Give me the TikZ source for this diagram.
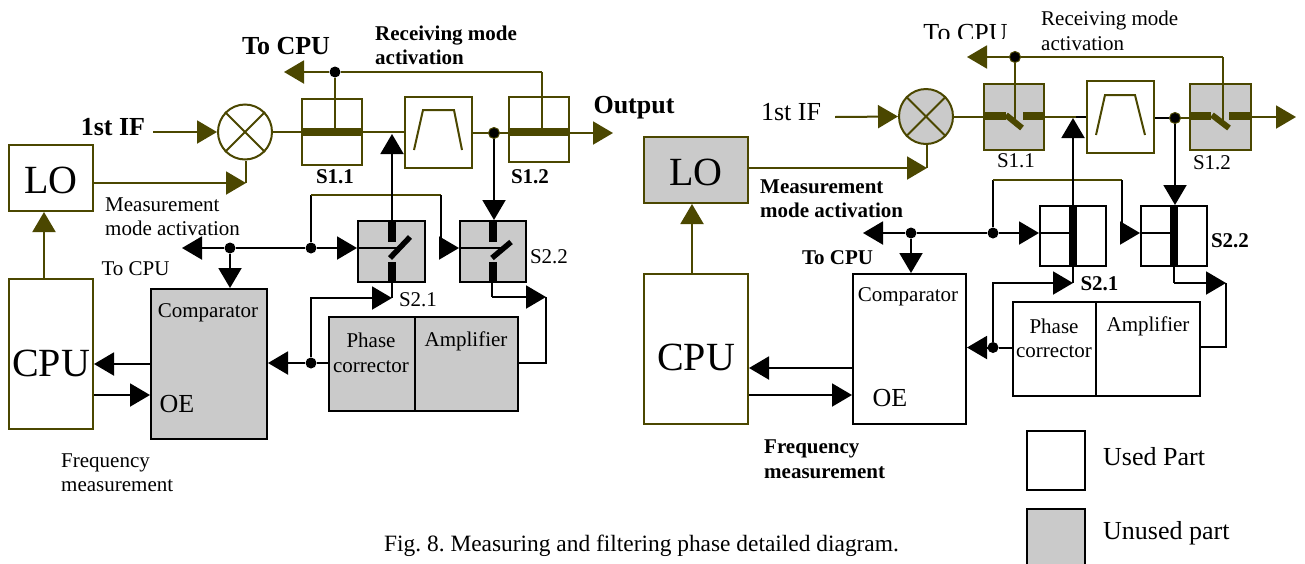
\documentclass[tikz,border=0pt]{standalone}
\usepackage{fontspec}
\setmainfont{Liberation Serif}
\usetikzlibrary{arrows.meta,shapes.geometric}
\definecolor{oliveline}{HTML}{4B4700}
\definecolor{partgray}{HTML}{CACACA}
\tikzset{
    block/.style={draw=black,line width=2pt,inner sep=0pt,align=center},
    oblock/.style={block,draw=oliveline},
    gblock/.style={block,fill=partgray},
    ogblock/.style={oblock,fill=partgray},
    mixer/.style={ellipse,draw=oliveline,line width=2pt,inner sep=0pt,minimum width=54pt,minimum height=55pt},
    wire/.style={draw=black,line width=2pt},
    owire/.style={draw=oliveline,line width=2pt},
    arr/.style={-{Triangle[length=20pt,width=23pt]}},
    bar/.style={line width=7.5pt},
    jdot/.style={circle,fill=black,inner sep=0pt,minimum size=11pt},
    ojdot/.style={jdot,draw=oliveline,line width=1pt},
    txt/.style={font=\fontsize{21}{24.5}\selectfont,inner sep=0pt,align=left},
    txtb/.style={font=\fontsize{21}{24.5}\selectfont\bfseries,inner sep=0pt,align=left},
    mid/.style={font=\fontsize{26}{26}\selectfont,inner sep=0pt},
    midb/.style={font=\fontsize{26}{26}\selectfont\bfseries,inner sep=0pt},
    big/.style={font=\fontsize{40}{40}\selectfont,inner sep=0pt},
}
\begin{document}
\frenchspacing
\begin{tikzpicture}[x=1pt,y=-1pt]
    \useasboundingbox (0,0) rectangle (1305,563);

    % left panel
    \node[oblock,minimum width=84pt,minimum height=66pt] (loL) at (51,178) {};
    \node[oblock,minimum width=84pt,minimum height=150pt] (cpuL) at (51,354) {};
    \node[gblock,minimum width=116pt,minimum height=150pt] (compL) at (209,364) {};
    \node[gblock,minimum width=86pt,minimum height=94pt] (phaseL) at (372,364) {};
    \node[gblock,minimum width=103pt,minimum height=94pt] (ampL) at (466.5,364) {};
    \node[oblock,minimum width=60pt,minimum height=66pt] (s11L) at (332,132) {};
    \node[oblock,minimum width=67pt,minimum height=71pt] (filtL) at (438.5,132.5) {};
    \node[oblock,minimum width=60pt,minimum height=65pt] (s12L) at (539,129.5) {};
    \node[gblock,minimum width=67pt,minimum height=61pt] (s21L) at (391.5,251.5) {};
    \node[gblock,minimum width=66pt,minimum height=61pt] (s22L) at (493,251.5) {};
    \node[mixer] (mixL) at (245,132) {};
    \draw[owire] (mixL.45) -- (mixL.225) (mixL.135) -- (mixL.315);
    \draw[owire] (414,150) -- (423,110) -- (454,110) -- (462,150);

    \node[jdot] (jtopL) at (335,72) {};
    \node[ojdot] (joutL) at (494,133) {};
    \node[jdot] (jcpuL) at (230,248) {};
    \node[jdot] (jmodeL) at (311,248) {};
    \node[jdot] (jphaseL) at (311,363) {};
    \coordinate (ifL) at (153,132);
    \coordinate (outL) at (613,133);
    \coordinate (topL) at (542,72);
    \coordinate (tocpuL) at (284,72);
    \coordinate (tos11L) at (335,128);
    \coordinate (tos12L) at (542,128);
    \coordinate (lomixL) at (246,183);
    \coordinate (modeL) at (182,248);
    \coordinate (upaL) at (311,195);
    \coordinate (upbL) at (441,195);
    \coordinate (upcL) at (441,248);
    \coordinate (filtinL) at (392,134);
    \coordinate (fbaL) at (311,298);
    \coordinate (fbbL) at (392,298);
    \coordinate (ampaL) at (492,297);
    \coordinate (ampbL) at (546,297);
    \coordinate (ampcL) at (546,363);

    \draw[owire,arr] (ifL) -- (mixL.west);
    \draw[owire] (mixL.east) -- (filtL.west |- mixL.east);
    \draw[owire] (filtL.east |- joutL) -- (joutL);
    \draw[owire,arr] (joutL) -- (outL);
    \draw[owire,arr] (topL) -- (jtopL) -- (tocpuL);
    \draw[owire] (jtopL) -- (tos11L);
    \draw[owire] (topL) -- (tos12L);
    \draw[owire,arr] (loL.east |- lomixL) -- (lomixL);
    \draw[owire] (lomixL) -- (mixL.south -| lomixL);
    \draw[owire,arr] (cpuL.north -| 44,0) -- (loL.south -| 44,0);
    \draw[oliveline,bar] (302,132) -- (362,132);
    \draw[oliveline,bar] (509,132) -- (569,132);

    \draw[wire,{Triangle[length=20pt,width=23pt]}-] (modeL) -- (jcpuL);
    \draw[wire] (jcpuL) -- (jmodeL);
    \draw[wire,arr] (jmodeL) -- (s21L.west |- jmodeL);
    \draw[wire] (s21L.west |- jmodeL) -- (402,248);
    \draw[wire,arr] (jcpuL) -- (compL.north -| jcpuL);
    \draw[wire] (jmodeL) -- (upaL);
    \draw[owire] (upaL) -- (upbL);
    \draw[wire,arr] (upbL) -- (upcL) -- (s22L.west |- upcL);
    \draw[wire] (s22L.west |- upcL) -- (503,248);
    \draw[wire,arr] (s21L.north -| 392,0) -- (filtinL);
    \draw[wire,arr] (joutL) -- (s22L.north -| joutL);
    \draw[wire] (s21L.south -| 392,0) -- (fbbL);
    \draw[wire,arr] (jphaseL) -- (fbaL) -- (fbbL);
    \draw[wire] (s22L.south -| ampaL) -- (ampaL);
    \draw[wire,arr] (ampaL) -- (ampbL);
    \draw[wire] (ampbL) -- (ampcL) -- (ampL.east |- ampcL);
    \draw[wire] (phaseL.west |- jphaseL) -- (jphaseL);
    \draw[wire,arr] (jphaseL) -- (compL.east |- jphaseL);
    \draw[wire,arr] (compL.west |- 0,364) -- (cpuL.east |- 0,364);
    \draw[wire,arr] (cpuL.east |- 0,395) -- (compL.west |- 0,395);
    \draw[bar] (392,221) -- (392,242) (392,262) -- (392,282);
    \draw[bar,line width=5.5pt] (390,258) -- (410,237);
    \draw[bar] (493,221) -- (493,242) (493,262) -- (493,282);
    \draw[bar,line width=5.5pt] (492,258) -- (511,242);

    \node[big] (loaL) at (51,180) {LO};
    \node[big] (cpuaL) at (51,363) {CPU};
    \node[midb] (tcaL) at (286,46) {To CPU};
    \node[txtb,anchor=west] (recvL) at (375,45.5) {Receiving mode\\activation};
    \node[midb] (ifaL) at (113,127) {1st IF};
    \node[midb] (outaL) at (634,108) {Output};
    \node[txtb] (s11aL) at (335,177) {S1.1};
    \node[txtb] (s12aL) at (530,177) {S1.2};
    \node[txt,anchor=west] (measL) at (105,216.5) {Measurement\\mode activation};
    \node[txt] (tcbL) at (135.5,269) {To CPU};
    \node[txt] (s21aL) at (418,300) {S2.1};
    \node[txt] (s22aL) at (549,257) {S2.2};
    \node[txt] (cmpaL) at (208,313) {Comparator};
    \node[mid] (oeL) at (177,404) {OE};
    \node[txt,align=center] (phaL) at (371,353) {Phase\\corrector};
    \node[txt] (ampaaL) at (466,341) {Amplifier};
    \node[txt,anchor=west] (freqL) at (61,472.5) {Frequency\\measurement};

    % right panel
    \node[ogblock,minimum width=104pt,minimum height=66pt] (loR) at (696,170) {};
    \node[oblock,minimum width=104pt,minimum height=150pt] (cpuR) at (696,349) {};
    \node[block,minimum width=113pt,minimum height=150pt] (compR) at (909.5,349) {};
    \node[block,minimum width=83pt,minimum height=94pt] (phaseR) at (1054.5,349) {};
    \node[block,minimum width=104pt,minimum height=94pt] (ampR) at (1148,349) {};
    \node[ogblock,minimum width=60pt,minimum height=66pt] (s11R) at (1014,117) {};
    \node[oblock,minimum width=67pt,minimum height=72pt] (filtR) at (1120.5,117) {};
    \node[ogblock,minimum width=61pt,minimum height=66pt] (s12R) at (1220.5,117) {};
    \node[block,minimum width=66pt,minimum height=60pt] (s21R) at (1073,236) {};
    \node[block,minimum width=66pt,minimum height=60pt] (s22R) at (1174,236) {};
    \node[mixer,fill=partgray] (mixR) at (926,116.5) {};
    \draw[owire] (mixR.45) -- (mixR.225) (mixR.135) -- (mixR.315);
    \draw[owire] (1096,135) -- (1105,95) -- (1135,95) -- (1145,135);

    \node[ojdot] (jtopR) at (1015,57) {};
    \node[ojdot] (joutR) at (1175,118) {};
    \node[jdot] (jcpuR) at (911,233) {};
    \node[jdot] (jmodeR) at (993,233) {};
    \node[jdot] (jphaseR) at (993,347.5) {};
    \coordinate (ifR) at (835,117);
    \coordinate (outR) at (1296,117);
    \coordinate (topR) at (1223,57);
    \coordinate (tocpuR) at (967,57);
    \coordinate (tos11R) at (1015,120);
    \coordinate (tos12R) at (1223,120);
    \coordinate (lomixR) at (927,168);
    \coordinate (modeR) at (863,233);
    \coordinate (upaR) at (993,180);
    \coordinate (upbR) at (1122,180);
    \coordinate (upcR) at (1122,233);
    \coordinate (filtinR) at (1073,118);
    \coordinate (fbaR) at (993,283);
    \coordinate (fbbR) at (1073,283);
    \coordinate (ampaR) at (1174,283);
    \coordinate (ampbR) at (1226,283);
    \coordinate (ampcR) at (1226,347);

    \draw[owire,arr] (ifR) -- (mixR.west);
    \draw[owire] (mixR.east) -- (s11R.west |- mixR.east);
    \draw[owire] (s11R.east) -- (filtR.west);
    \draw[wire] (1076,117) -- (filtR.west);
    \draw[wire] (filtR.east |- joutR) -- (joutR);
    \draw[owire] (joutR) -- (s12R.west |- joutR);
    \draw[owire,arr] (s12R.east) -- (outR);
    \draw[owire,arr] (topR) -- (jtopR) -- (tocpuR);
    \draw[owire] (jtopR) -- (tos11R);
    \draw[owire] (topR) -- (tos12R);
    \draw[owire,arr] (loR.east |- lomixR) -- (lomixR);
    \draw[owire] (lomixR) -- (mixR.south -| lomixR);
    \draw[owire,arr] (cpuR.north -| 692,0) -- (loR.south -| 692,0);
    \draw[oliveline,bar] (984,116) -- (1006,116) (1023,116) -- (1044,116);
    \draw[oliveline,bar,line width=6pt] (1006,115) -- (1022,128);
    \draw[oliveline,bar] (1190,116) -- (1211,116) (1229,116) -- (1251,116);
    \draw[oliveline,bar,line width=6pt] (1212,115) -- (1229,128);

    \draw[wire,{Triangle[length=20pt,width=23pt]}-] (modeR) -- (jcpuR);
    \draw[wire] (jcpuR) -- (jmodeR);
    \draw[wire,arr] (jmodeR) -- (s21R.west |- jmodeR);
    \draw[wire] (s21R.west |- jmodeR) -- (1073,233);
    \draw[wire,arr] (jcpuR) -- (compR.north -| jcpuR);
    \draw[wire] (jmodeR) -- (upaR);
    \draw[owire] (upaR) -- (upbR);
    \draw[wire,arr] (upbR) -- (upcR) -- (s22R.west |- upcR);
    \draw[wire] (s22R.west |- upcR) -- (1174,233);
    \draw[wire,arr] (fbbR) -- (filtinR);
    \draw[wire,arr] (joutR) -- (s22R.north -| joutR);
    \draw[wire,arr] (jphaseR) -- (fbaR) -- (fbbR);
    \draw[wire] (s22R.south -| ampaR) -- (ampaR);
    \draw[wire,arr] (ampaR) -- (ampbR);
    \draw[wire] (ampbR) -- (ampcR) -- (ampR.east |- ampcR);
    \draw[wire] (phaseR.west |- jphaseR) -- (jphaseR);
    \draw[wire,arr] (jphaseR) -- (compR.east |- jphaseR);
    \draw[wire,arr] (compR.west |- 0,368) -- (cpuR.east |- 0,368);
    \draw[wire,arr] (cpuR.east |- 0,395) -- (compR.west |- 0,395);
    \draw[bar] (1073,206) -- (1073,266);
    \draw[bar] (1174,206) -- (1174,266);

    \node[big] (loaR) at (696,172) {LO};
    \node[big] (cpuaR) at (696,357) {CPU};
    \begin{scope}
        \clip (915,0) rectangle (1020,38);
        \node[mid] (tcaR) at (965.5,33) {To CPU};
    \end{scope}
    \node[txt,anchor=west] (recvR) at (1041,31) {Receiving mode\\activation};
    \node[mid] (ifaR) at (791,112) {1st IF};
    \node[txt] (s11aR) at (1016,161) {S1.1};
    \node[txt] (s12aR) at (1212,163) {S1.2};
    \node[txtb,anchor=west] (measR) at (760,198.5) {Measurement\\mode activation};
    \node[txtb] (tcbR) at (837.5,258) {To CPU};
    \node[txtb] (s21aR) at (1099.5,284) {S2.1};
    \node[txtb] (s22aR) at (1230,241) {S2.2};
    \node[txt] (cmpaR) at (908,297) {Comparator};
    \node[mid] (oeR) at (890,398) {OE};
    \node[txt,align=center] (phaR) at (1054,338.5) {Phase\\corrector};
    \node[txt] (ampaaR) at (1148,326) {Amplifier};
    \node[txtb,anchor=west] (freqR) at (764,459) {Frequency\\measurement};

    % legend and caption
    \node[block,minimum width=58pt,minimum height=59pt] (usedbox) at (1055.5,460) {};
    \node[gblock,minimum width=58pt,minimum height=59pt,anchor=north] (unusedbox) at (1055.5,508) {};
    \node[mid,anchor=west] (usedlab) at (1103,457) {Used Part};
    \node[mid,anchor=west] (unusedlab) at (1103,533) {Unused part};
    \node[txt,font=\fontsize{23.4}{24}\selectfont,anchor=west] (figcap) at (384,546) {Fig. 8. Measuring and filtering phase detailed diagram.};
\end{tikzpicture}
\end{document}
